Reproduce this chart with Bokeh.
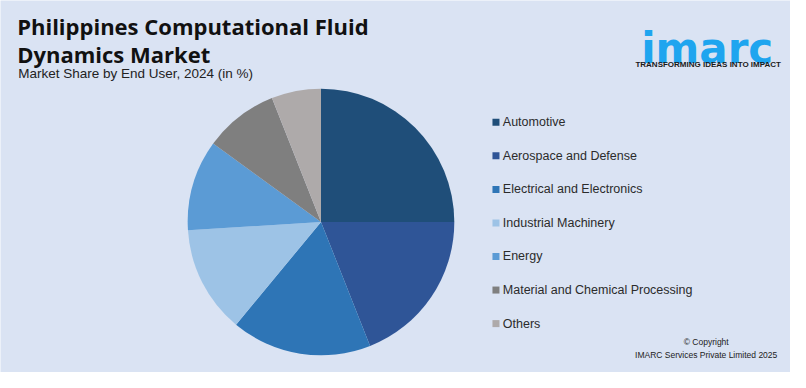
import numpy as np
from bokeh.plotting import figure
from bokeh.models import Range1d, ColumnDataSource
from bokeh.core.properties import value
from bokeh.embed import file_html
from bokeh.resources import INLINE

# ---- data ----
categories = ["Automotive", "Aerospace and Defense", "Electrical and Electronics",
              "Industrial Machinery", "Energy", "Material and Chemical Processing", "Others"]
shares = [25, 19, 17, 13, 11, 9, 6]
colors = ["#1f4e79", "#2f5597", "#2e75b6", "#9dc3e6", "#5b9bd5", "#7f7f7f", "#aeaaaa"]

title_lines = ["Philippines Computational Fluid", "Dynamics Market"]
subtitle = "Market Share by End User, 2024 (in %)"

W, H = 790, 372
BG = "#dae3f3"
SX, SY = W / 806, H / 388

def X(px):
    return px * SX

def Y(py):
    return H - py * SY

p = figure(width=W, height=H, output_backend="svg", toolbar_location=None,
           x_range=Range1d(0, W), y_range=Range1d(0, H), min_border=0,
           background_fill_color=BG, border_fill_color=BG, outline_line_color=None)
p.axis.visible = False
p.grid.visible = False

# ---- pie ----
vals = np.array(shares, dtype=float)
frac = vals / vals.sum()
cum = np.concatenate([[0], np.cumsum(frac)])
start = np.pi / 2 - cum[:-1] * 2 * np.pi
end = np.pi / 2 - cum[1:] * 2 * np.pi
src = ColumnDataSource(dict(start=start, end=end, color=colors, cat=categories))
p.wedge(x=X(327), y=Y(231), radius=137.5 * (SX + SY) / 2, start_angle="start", end_angle="end",
        direction="clock", fill_color="color", line_color=None, source=src)

# ---- legend ----
ly = [Y(127 + 35 * i) for i in range(len(categories))]
p.scatter(x=[X(505.5)] * len(categories), y=ly, marker="square", size=7,
          fill_color=colors, line_color=None)
p.text(x=[X(512.5)] * len(categories), y=ly, text=categories, text_font=value("Liberation Sans"),
       text_font_size="12.5px", text_baseline="middle", text_align="left", text_color="#2b2b2b")

# ---- titles ----
p.text(x=[X(17), X(17)], y=[Y(27), Y(56)], text=title_lines, text_font=value("Open Sans"),
       text_font_style="bold", text_font_size="22px", text_baseline="alphabetic",
       text_color="#111111")
p.text(x=[X(18)], y=[Y(76)], text=[subtitle], text_font=value("Liberation Sans"),
       text_font_size="13.5px", text_baseline="alphabetic", text_color="#222222")

# ---- logo ----
p.text(x=[X(721)], y=[Y(50)], text=["imarc"], text_font=value("DejaVu Sans"),
       text_font_style="bold", text_font_size="42px", text_baseline="alphabetic",
       text_align="center", text_color="#1ea5ef")
p.text(x=[X(722)], y=[Y(67)], text=["TRANSFORMING IDEAS INTO IMPACT"],
       text_font=value("Liberation Sans"), text_font_style="bold", text_font_size="8px",
       text_baseline="alphabetic", text_align="center", text_color="#1a1a1a")

# ---- copyright ----
p.text(x=[X(720), X(720)], y=[Y(356), Y(370)],
       text=["\u00a9 Copyright", "IMARC Services Private Limited 2025"],
       text_font=value("Liberation Sans"), text_font_size="8.5px", text_baseline="middle",
       text_align="center", text_color="#222222")

open("out.html", "w").write(file_html(p, INLINE))
